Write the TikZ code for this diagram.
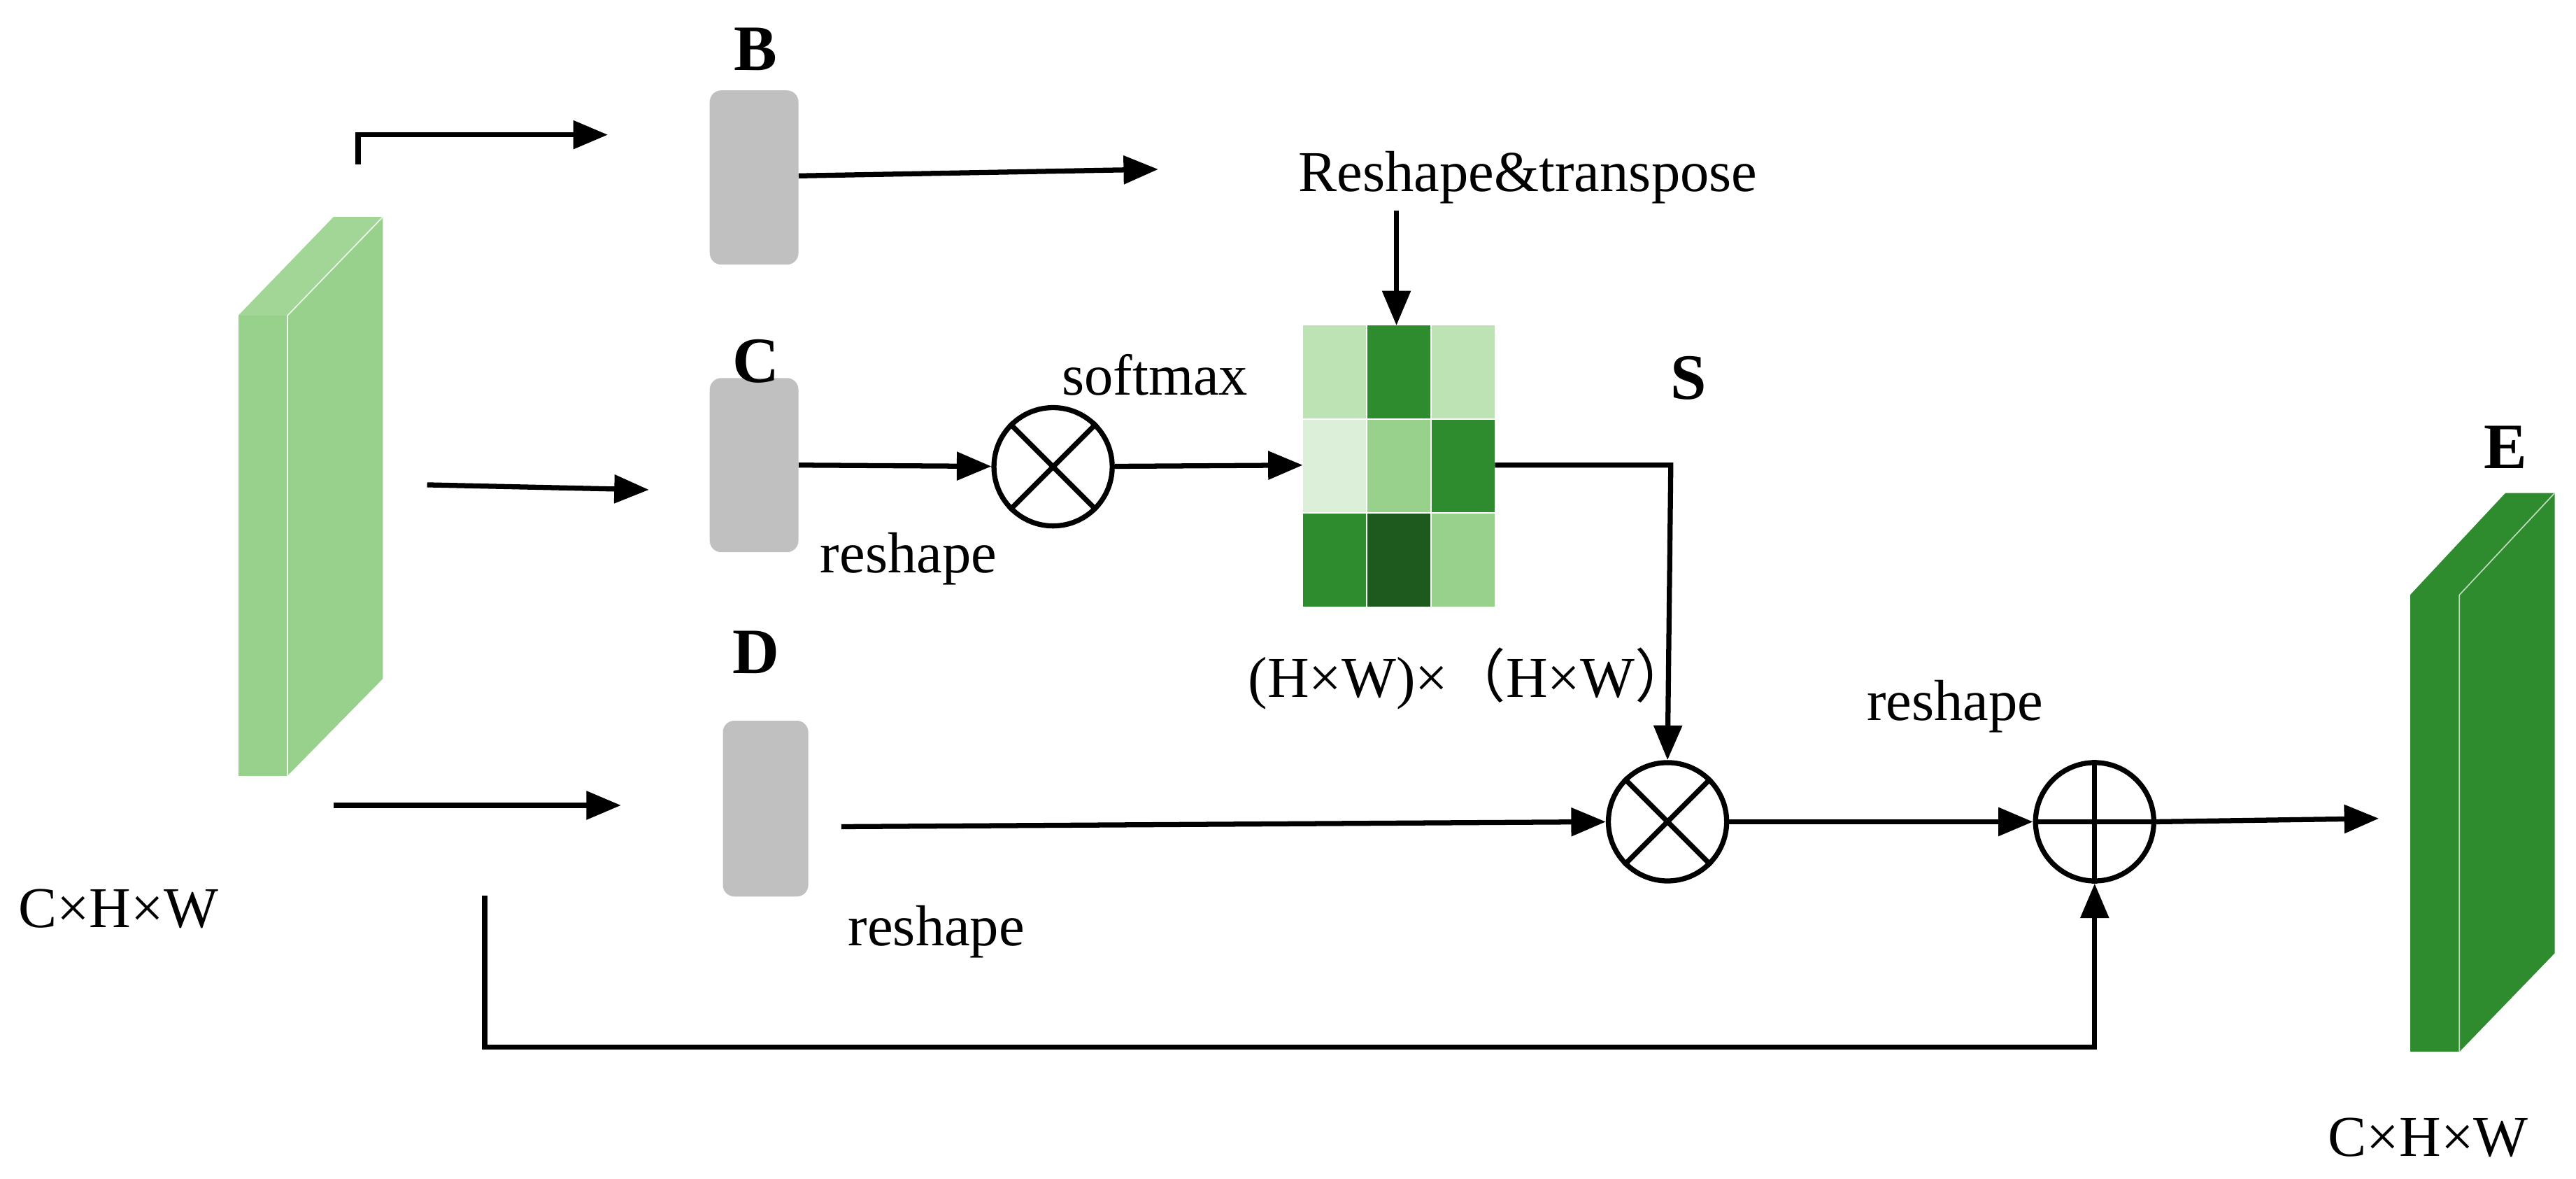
\documentclass[tikz,border=0pt]{standalone}
\usepackage{fontspec}
\setmainfont{Liberation Serif}
\newfontfamily\cjk{Noto Sans CJK SC}
\usetikzlibrary{arrows.meta}
\definecolor{lg}{HTML}{98D18B}
\definecolor{dg}{HTML}{2E8B2E}
\definecolor{c1}{HTML}{BDE3B5}
\definecolor{c2}{HTML}{DCEFD8}
\definecolor{c3}{HTML}{1E5A1E}
\definecolor{gr}{HTML}{C0C0C0}
\begin{document}
\begin{tikzpicture}[x=0.05cm,y=-0.05cm,
  ln/.style={line width=4.4pt},
  ar/.style={ln,-{Triangle[length=30pt,width=24pt]}},
  txt/.style={font=\fontsize{50}{55}\selectfont,inner sep=0},
  lbl/.style={font=\fontsize{56}{60}\selectfont\bfseries,inner sep=0},
  box/.style={fill=gr,draw=none,rounded corners=10pt},
  op/.style={circle,draw,line width=4.4pt,minimum size=3.6cm,inner sep=0}]
\useasboundingbox (0,0) rectangle (1568,717);
% left cuboid
\fill[lg] (145,192) rectangle (175,472);
\fill[lg] (175,192)--(233,132)--(233,413)--(175,472)--cycle;
\fill[lg!90!white] (145,192)--(203,132)--(233,132)--(175,192)--cycle;
\draw[white!85!lg,line width=1pt] (175,192)--(175,472) (175,192)--(233,132);
\node[txt] (l1) at (72,553) {C×H×W};
% right cuboid
\fill[dg] (1467,362) rectangle (1497,640);
\fill[dg] (1497,362)--(1555,300)--(1555,580)--(1497,640)--cycle;
\fill[dg] (1467,362)--(1525,300)--(1555,300)--(1497,362)--cycle;
\draw[white!70!dg,line width=1pt] (1497,362)--(1497,640) (1497,362)--(1555,300);
\node[txt] (l2) at (1478,692) {C×H×W};
\node[lbl] (E) at (1525,272) {E};
% boxes
\node[box,minimum width=2.7cm,minimum height=5.3cm] (B) at (459,108) {};
\node[box,minimum width=2.7cm,minimum height=5.3cm] (C) at (459,283) {};
\node[box,minimum width=2.6cm,minimum height=5.35cm] (D) at (466,492) {};
\node[lbl] at (460,30) {B};
\node[lbl] at (460,220) {C};
\node[lbl] at (460,397) {D};
\node[lbl] at (1028,230) {S};
% inputs
\coordinate (a0) at (218,100); \coordinate (a1) at (218,82); \coordinate (a2) at (370,82);
\draw[ar] (a0)--(a1)--(a2);
\coordinate (b0) at (260,295); \coordinate (b1) at (395,298);
\draw[ar] (b0)--(b1);
\coordinate (c0) at (203,490); \coordinate (c1) at (378,490);
\draw[ar] (c0)--(c1);
\coordinate (bo) at (705,103);
\draw[ar] (B.east |- 0,107)--(bo);
% matrix
\foreach \r/\cols in {0/{c1,dg,c1},1/{c2,lg,dg},2/{dg,c3,lg}}{
  \foreach \c [count=\i from 0] in \cols {
    \fill[\c] (793+39*\i,198+57*\r) rectangle ++(39,57);
  }}
\foreach \i in {1,2} {
  \draw[white,line width=1pt] (793+39*\i,198)--(793+39*\i,369);
  \draw[white,line width=1pt] (793,198+57*\i)--(910,198+57*\i);}
\coordinate (M) at (793,283);
\node[txt] (rt) at (930,108) {Reshape\&transpose};
\draw[ar] (850,128)--(850,198);
\node[txt] at (895,413) {(H×W)×{\cjk （}H×W{\cjk ）}};
% C path
\node[op] (x1) at (641,284) {};
\draw[ln] (x1.north west)--(x1.south east) (x1.north east)--(x1.south west);
\draw[ar] (C.east)--(x1);
\draw[ar] (x1)--(M);
\node[txt] at (703,228) {softmax};
\node[txt] at (553,340) {reshape};
% second otimes
\node[op] (x2) at (1015,500) {};
\draw[ln] (x2.north west)--(x2.south east) (x2.north east)--(x2.south west);
\draw[ar] (910,283)--(1017,283)--(x2.north);
\draw[ar] (D.east |- 0,503)++(20,0)--(x2.west);
\node[txt] at (570,567) {reshape};
% oplus
\node[op] (p) at (1275,500) {};
\draw[ln] (p.north)--(p.south) (p.west)--(p.east);
\draw[ar] (x2)--(p);
\node[txt] at (1190,430) {reshape};
\coordinate (eo) at (1448,498);
\draw[ar] (p.east)--(eo);
\draw[ar] (295,545)--(295,637)--(1275,637)--(p.south);
\end{tikzpicture}
\end{document}
